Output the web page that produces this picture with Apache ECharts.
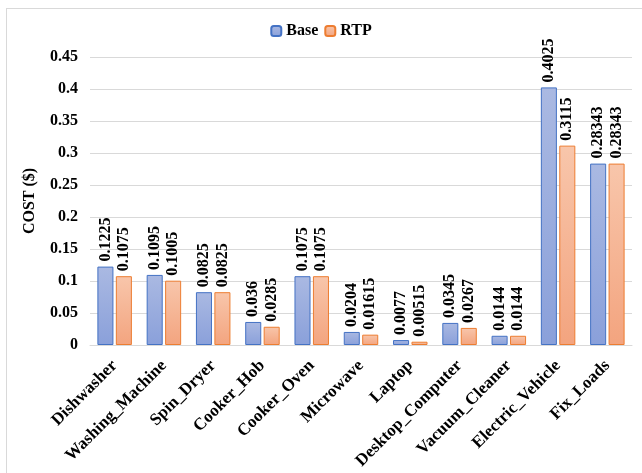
<!DOCTYPE html>
<html>
<head>
<meta charset="utf-8">
<script src="https://cdn.jsdelivr.net/npm/echarts@6/dist/echarts.min.js"></script>
<style>
  html, body { margin: 0; padding: 0; background: #fff; }
  #frame { position: absolute; left: 6px; top: 8px; width: 640px; height: 470px; border: 1px solid #d9d9d9; box-sizing: border-box; }
  #chart { position: absolute; left: 0; top: 0; width: 642px; height: 473px; }
</style>
</head>
<body>
<div id="frame"></div>
<div id="chart"></div>
<script>
const categories = ['Dishwasher', 'Washing_Machine', 'Spin_Dryer', 'Cooker_Hob', 'Cooker_Oven', 'Microwave', 'Laptop', 'Desktop_Computer', 'Vacuum_Cleaner', 'Electric_Vehicle', 'Fix_Loads']
const baseCost = [0.1225, 0.1095, 0.0825, 0.036, 0.1075, 0.0204, 0.0077, 0.0345, 0.0144, 0.4025, 0.28343]
const rtpCost = [0.1075, 0.1005, 0.0825, 0.0285, 0.1075, 0.01615, 0.00515, 0.0267, 0.0144, 0.3115, 0.28343]

const font = 'Liberation Serif, Times New Roman, serif'

const grad = (top, bottom) => new echarts.graphic.LinearGradient(0, 0, 0, 1, [
  { offset: 0, color: top },
  { offset: 1, color: bottom }
])

const label = {
  show: true,
  position: 'top',
  rotate: 90,
  align: 'left',
  verticalAlign: 'middle',
  distance: 5,
  fontFamily: font,
  fontWeight: 'bold',
  fontSize: 16,
  color: '#000'
}

let myChart = echarts.init(document.getElementById('chart'))
let option = {
  animation: false,
  legend: {
    top: 18,
    left: 'center',
    itemWidth: 10,
    itemHeight: 10,
    itemGap: 6,
    textStyle: { fontFamily: font, fontWeight: 'bold', fontSize: 16, color: '#000' }
  },
  grid: { left: 90, right: 10, top: 57, bottom: 128 },
  xAxis: {
    type: 'category',
    data: categories,
    axisTick: { show: false },
    axisLine: { lineStyle: { color: '#d9d9d9' } },
    axisLabel: {
      interval: 0,
      rotate: 45,
      margin: 18,
      fontFamily: font,
      fontWeight: 'bold',
      fontSize: 17,
      color: '#000'
    }
  },
  yAxis: {
    type: 'value',
    min: 0,
    max: 0.45,
    interval: 0.05,
    name: 'COST ($)',
    nameLocation: 'middle',
    nameGap: 52,
    nameRotate: 90,
    nameTextStyle: { fontFamily: font, fontWeight: 'bold', fontSize: 16, color: '#000' },
    axisLabel: { fontFamily: font, fontWeight: 'bold', fontSize: 16, color: '#000', margin: 12 },
    splitLine: { lineStyle: { color: '#d9d9d9' } }
  },
  series: [
    {
      name: 'Base',
      type: 'bar',
      data: baseCost,
      barGap: '15%',
      barCategoryGap: '30%',
      itemStyle: { color: grad('#aab9e2', '#8aa0da'), borderColor: '#4472c4', borderWidth: 1 },
      label: label
    },
    {
      name: 'RTP',
      type: 'bar',
      data: rtpCost,
      itemStyle: { color: grad('#f8c6ab', '#f3a47f'), borderColor: '#ed7d31', borderWidth: 1 },
      label: label
    }
  ]
}
myChart.setOption(option)
</script>
</body>
</html>
